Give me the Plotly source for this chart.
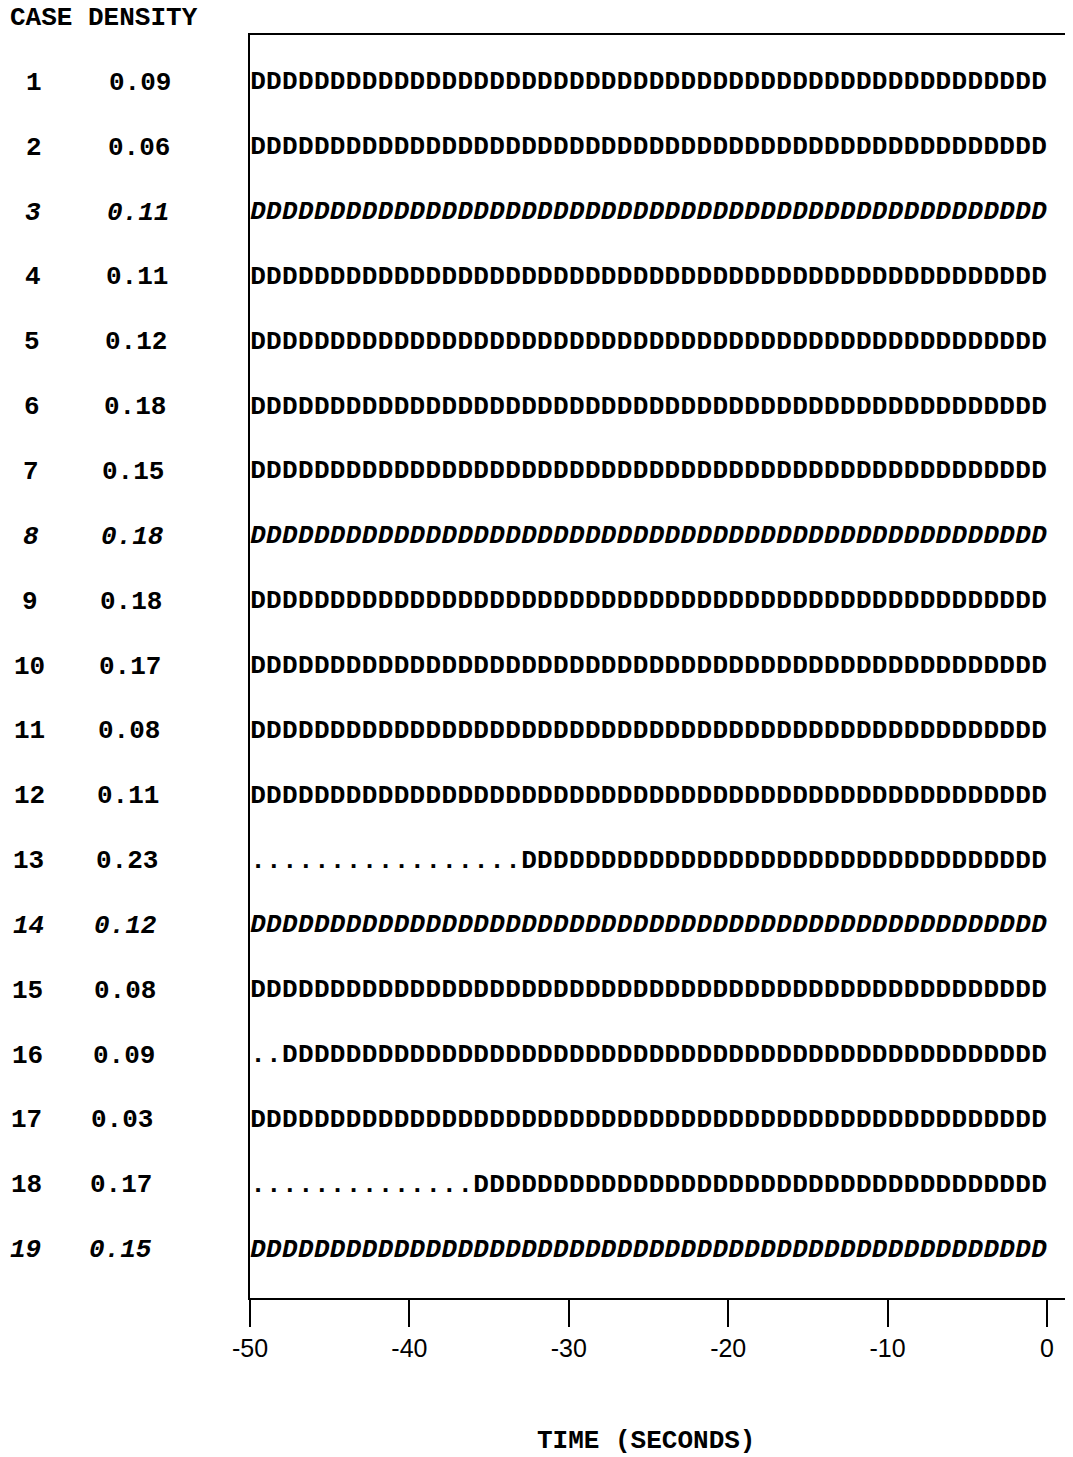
import plotly.graph_objects as go

# ---- data ----
CASES = list(range(1, 20))
DENSITY = ["0.09", "0.06", "0.11", "0.11", "0.12", "0.18", "0.15", "0.18", "0.18",
           "0.17", "0.08", "0.11", "0.23", "0.12", "0.08", "0.09", "0.03", "0.17", "0.15"]
# time (s) of the first "D" in each case row; earlier seconds are printed as "."
ONSET = [-50, -50, -50, -50, -50, -50, -50, -50, -50, -50,
         -50, -50, -33, -50, -50, -48, -50, -36, -50]
T_START, T_END = -50, 0
TICKS = [-50, -40, -30, -20, -10, 0]

# ---- style ----
MONO = "Liberation Mono"
TICKFONT = "Liberation Sans Narrow, Liberation Sans"
ITALIC_ROWS = {3, 8, 14, 19}
OFF = 8                      # page body margin
W, H = 1065, 1449
L, R, T, B = 242, 5, 27, 159
PW = W - L - R
PH = H - T - B
PX_PER_S = 797 / 50.0
x_hi = T_START + PW / PX_PER_S

fig = go.Figure()
secs = list(range(T_START, T_END))
for case, onset in zip(CASES, ONSET):
    xs = [s + 0.5 for s in secs]
    txt = ["D" if s >= onset else "." for s in secs]
    fig.add_trace(go.Scatter(
        x=xs, y=[case] * len(xs), mode="text", text=txt,
        textposition="middle center",
        textfont=dict(family=MONO, size=26, color="black", weight="bold",
                      style="italic" if case in ITALIC_ROWS else "normal"),
        hoverinfo="skip", showlegend=False, cliponaxis=False))

def px_to_paper_x(px):
    return (px - OFF - L) / PW

def py_to_paper_y(py):
    return (OFF + H - B - py) / PH

ann = []
ann.append(dict(x=px_to_paper_x(8), y=py_to_paper_y(18), xref="paper", yref="paper",
                text="CASE DENSITY", showarrow=False, xanchor="left", yanchor="middle",
                font=dict(family=MONO, size=26, color="black", weight="bold")))
for case, dens in zip(CASES, DENSITY):
    st = "italic" if case in ITALIC_ROWS else "normal"
    ann.append(dict(x=px_to_paper_x(34 - (case - 1) * 0.45), y=case, xref="paper", yref="y",
                    text=str(case), showarrow=False, xanchor="center", yanchor="middle",
                    font=dict(family=MONO, size=26, color="black", weight="bold", style=st)))
    ann.append(dict(x=px_to_paper_x(140 - (case - 1) * 1.1), y=case, xref="paper", yref="y",
                    text=dens, showarrow=False, xanchor="center", yanchor="middle",
                    font=dict(family=MONO, size=26, color="black", weight="bold", style=st)))
ann.append(dict(x=px_to_paper_x(646), y=py_to_paper_y(1441), xref="paper", yref="paper",
                text="TIME (SECONDS)", showarrow=False, xanchor="center", yanchor="middle",
                font=dict(family=MONO, size=26, color="black", weight="bold")))

shapes = [dict(type="line", xref="paper", yref="paper", x0=1, x1=1,
               y0=py_to_paper_y(1295), y1=py_to_paper_y(440),
               line=dict(color="black", width=2))]

fig.update_layout(
    width=W, height=H,
    margin=dict(l=L, r=R, t=T, b=B),
    paper_bgcolor="white", plot_bgcolor="white",
    annotations=ann, shapes=shapes,
    xaxis=dict(range=[T_START, x_hi], tickvals=TICKS, ticktext=[str(t) for t in TICKS],
               ticks="outside", ticklen=27, tickwidth=2, tickcolor="black",
               showline=True, linecolor="black", linewidth=2, mirror=True,
               showgrid=False, zeroline=False,
               tickfont=dict(family=TICKFONT, size=25, color="black")),
    yaxis=dict(range=[19.74, 0.26], showticklabels=False, ticks="",
               showline=True, linecolor="black", linewidth=2, mirror=False,
               showgrid=False, zeroline=False),
)

fig.write_html("out.html")
